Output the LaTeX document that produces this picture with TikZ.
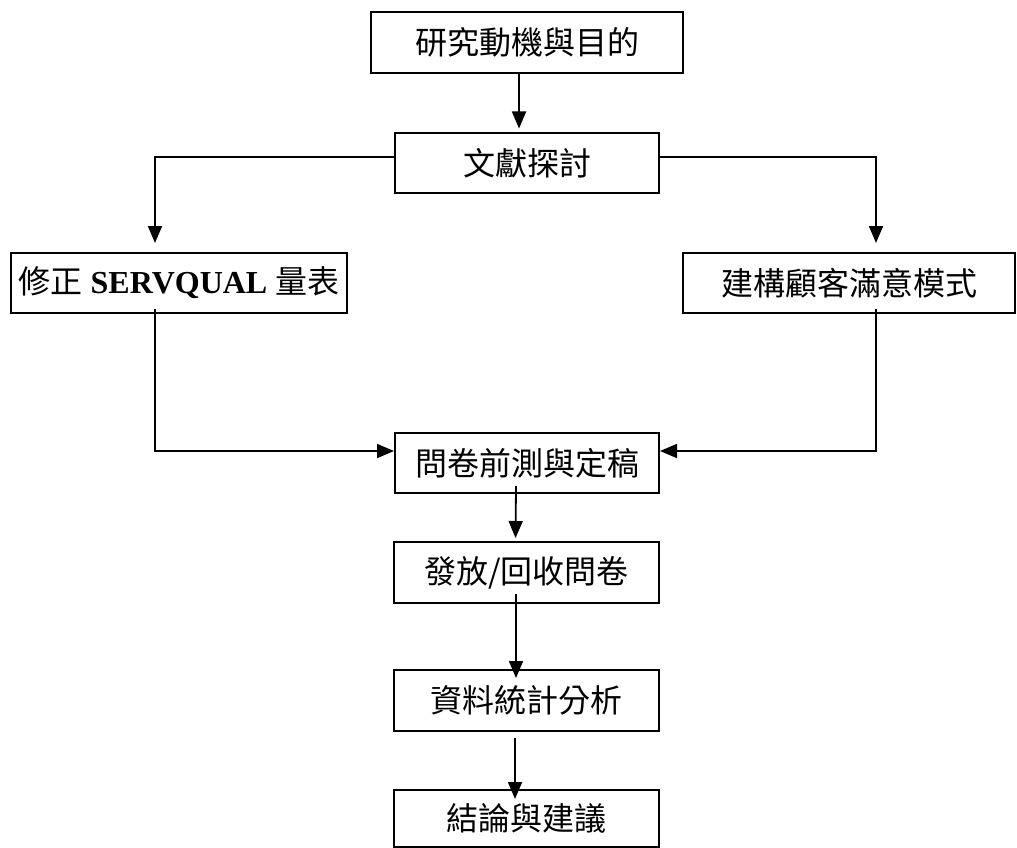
\documentclass[tikz,border=0pt]{standalone}
\usepackage{fontspec}
\setmainfont{Liberation Serif}
\newfontfamily\cjk{Noto Sans CJK TC}
\usetikzlibrary{arrows.meta}
\begin{document}
\begin{tikzpicture}[x=1pt,y=-1pt,
  box/.style={draw, line width=2pt, inner sep=0pt, font=\cjk\fontsize{32}{36}\selectfont},
  arr/.style={line width=1.8pt, -{Triangle[width=14pt,length=17pt]}}]
\useasboundingbox (0,0) rectangle (1017,848);
\node[box, minimum width=312pt, minimum height=61pt] (b1) at (527,42.5) {研究動機與目的};
\node[box, minimum width=264pt, minimum height=59pt] (b2) at (527,163) {文獻探討};
\node[box, minimum width=336pt, minimum height=60pt] (bl) at (179,283)
  {修正{\rmfamily\bfseries\fontsize{32}{38}\selectfont\ SERVQUAL\ }量表};
\node[box, minimum width=332pt, minimum height=60pt] (br) at (849,283) {建構顧客滿意模式};
\node[box, minimum width=264pt, minimum height=60pt] (b3) at (527,463) {問卷前測與定稿};
\node[box, minimum width=265pt, minimum height=61pt] (b4) at (526.5,572.5) {發放/回收問卷};
\node[box, minimum width=265pt, minimum height=61pt] (b5) at (526.5,700.5) {資料統計分析};
\node[box, minimum width=265pt, minimum height=57pt] (b6) at (526.5,818.5) {結論與建議};
\draw[arr, shorten >=4pt] ([xshift=-8pt]b1.south) -- ([xshift=-8pt]b2.north);
\draw[arr, shorten >=9pt] ([yshift=6pt]b2.west) -| ([xshift=-24pt]bl.north);
\draw[arr, shorten >=9pt] ([yshift=6pt]b2.east) -| ([xshift=27pt]br.north);
\draw[arr] ([xshift=-24pt,yshift=5pt]bl.south) |- ([yshift=12pt]b3.west);
\draw[arr] ([xshift=27pt,yshift=5pt]br.south) |- ([yshift=12pt]b3.east);
\draw[arr, shorten >=3pt] ([xshift=-11pt,yshift=8pt]b3.south) -- ([xshift=-11pt]b4.north);
\draw[arr, shorten >=-9pt] ([xshift=-10.5pt,yshift=10pt]b4.south) -- ([xshift=-10.5pt]b5.north);
\draw[arr, shorten >=-10pt] ([xshift=-11.5pt,yshift=-6pt]b5.south) -- ([xshift=-11.5pt]b6.north);
\end{tikzpicture}
\end{document}
